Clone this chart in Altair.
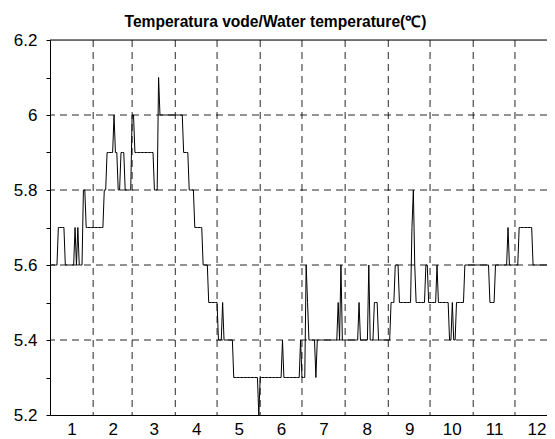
import altair as alt
import pandas as pd

title_text = "Temperatura vode/Water temperature(℃)"
month_labels = ["1", "2", "3", "4", "5", "6", "7", "8", "9", "10", "11", "12"]
month_days = [31, 28, 31, 30, 31, 30, 31, 31, 30, 31, 30, 31]
# day position of each month label (centre of the month)
label_days = [15.5, 45, 74.5, 105, 135.5, 166, 196.5, 227.5, 258, 288.5, 319, 349.5]

jan = [5.6]*6 + [5.7]*5 + [5.6]*7 + [5.7, 5.6, 5.7] + [5.6]*3 + [5.8]*2 + [5.7]*5
feb = [5.7]*8 + [5.8]*2 + [5.9]*5 + [6.0] + [5.9]*2 + [5.8]*2 + [5.9]*3 + [5.8]*5
mar = [6.0]*2 + [5.9]*14 + [5.8]*3 + [6.1] + [6.0]*11
apr = [6.0]*6 + [5.9]*4 + [5.8]*4 + [5.7]*6 + [5.6]*4 + [5.5]*6
may = [5.5] + [5.4]*3 + [5.5] + [5.4]*7 + [5.3]*18 + [5.2]
jun = [5.3]*16 + [5.4] + [5.3]*12 + [5.4]
jul = [5.3]*3 + [5.6, 5.5] + [5.4]*5 + [5.3] + [5.4]*15 + [5.5, 5.4, 5.6] + [5.4]*2
aug = [5.4]*10 + [5.5] + [5.4]*6 + [5.6] + [5.4]*3 + [5.5]*3 + [5.4]*7
sep = [5.4]*2 + [5.5]*3 + [5.6]*3 + [5.5]*9 + [5.7, 5.8, 5.6] + [5.5]*7 + [5.6]*2 + [5.5]
oct_ = [5.5]*5 + [5.6] + [5.5]*8 + [5.4]*2 + [5.5] + [5.4]*2 + [5.5]*6 + [5.6]*6
nov = [5.6]*12 + [5.5]*4 + [5.6]*9 + [5.7] + [5.6]*4
dec = [5.6]*3 + [5.7]*10 + [5.6]*18

y_ticks = [5.2, 5.3, 5.4, 5.5, 5.6, 5.7, 5.8, 5.9, 6.0, 6.1, 6.2]
y_grid = [5.4, 5.6, 5.8, 6.0]
y_top = [6.2]

temps = jan + feb + mar + apr + may + jun + jul + aug + sep + oct_ + nov + dec
df_line = pd.DataFrame({"day": list(range(len(temps))), "temp": temps})

bounds = [0]
for m in month_days:
    bounds.append(bounds[-1] + m)
df_v = pd.DataFrame({"day": bounds[1:12]})
df_h = pd.DataFrame({"temp": y_grid})
df_top = pd.DataFrame({"temp": y_top})

label_expr_x = "[" + ",".join("'%s'" % s for s in month_labels) + "][indexof([" + \
    ",".join(str(c) for c in label_days) + "], datum.value)]"

FONT = "Liberation Sans"
x_enc = alt.X(
    "day:Q",
    scale=alt.Scale(domain=[0, 357], nice=False, zero=False),
    axis=alt.Axis(values=label_days, labelExpr=label_expr_x, title=None, grid=False,
                  ticks=False, labelPadding=6, labelFontSize=17,
                  labelFont=FONT, labelColor="black",
                  domainColor="black", labelFlush=False),
)
y_enc = alt.Y(
    "temp:Q",
    scale=alt.Scale(domain=[5.2, 6.2], nice=False, zero=False),
    axis=alt.Axis(values=y_ticks,
                  labelExpr="round(datum.value*10)%2==0 ? format(datum.value, '~g') : ''",
                  title=None, grid=False, tickSize=4, tickColor="black",
                  labelPadding=9, labelFontSize=17, labelFont=FONT,
                  labelColor="black", domainColor="black", labelFlush=False),
)

dash = [7, 5]
vgrid = alt.Chart(df_v).mark_rule(color="black", strokeWidth=1, strokeDash=dash, opacity=0.85).encode(x=x_enc)
hgrid = alt.Chart(df_h).mark_rule(color="black", strokeWidth=1, strokeDash=dash, opacity=0.85).encode(y=y_enc)
top = alt.Chart(df_top).mark_rule(color="black", strokeWidth=1).encode(y=y_enc)
line = alt.Chart(df_line).mark_line(color="black", strokeWidth=1, clip=True).encode(x=x_enc, y=y_enc)

chart = alt.layer(vgrid, hgrid, top, line).properties(
    width=497,
    height=375,
    title=alt.TitleParams(title_text, fontSize=15.6, fontWeight="bold", font=FONT,
                          color="black", anchor="middle", dx=-23, dy=10, offset=10),
    autosize=alt.AutoSizeParams(type="none"),
    padding={"left": 42, "top": 32, "right": 0, "bottom": 24},
).configure_view(stroke=None).configure(background="white")

chart.save("out.html", embed_options={"renderer": "svg", "actions": False})
